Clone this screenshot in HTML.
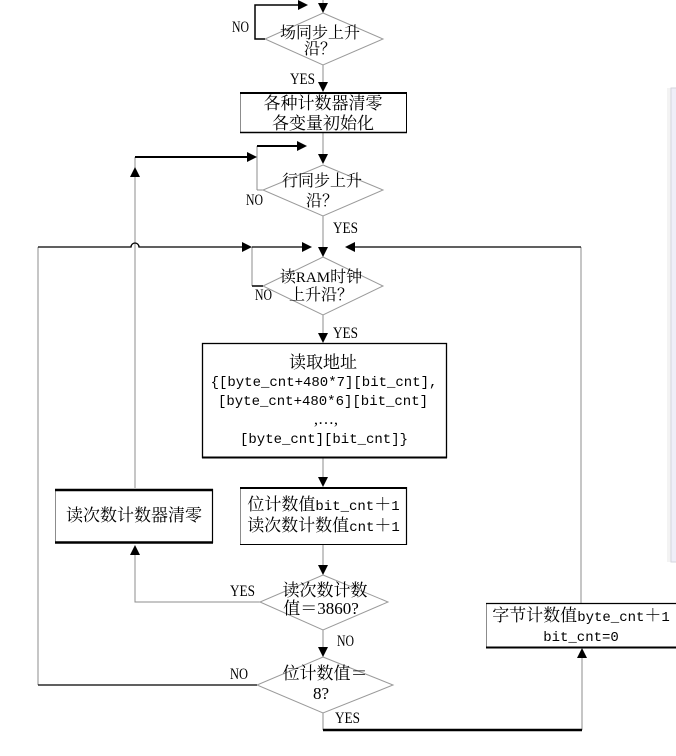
<!DOCTYPE html>
<html>
<head>
<meta charset="utf-8">
<style>
html,body{margin:0;padding:0;background:#fff;}
svg{display:block;}
.cj{font-family:"Liberation Serif","Noto Serif CJK SC","Noto Sans CJK SC",serif;font-size:17px;fill:#000;}
.cj16{font-family:"Liberation Serif","Noto Serif CJK SC","Noto Sans CJK SC",serif;font-size:16px;fill:#000;}
.mo{font-family:"Liberation Mono",monospace;font-size:14px;}
.sr{font-family:"Liberation Serif",serif;font-size:17px;}
.lb{font-family:"Liberation Serif",serif;font-size:16px;fill:#000;}
</style>
</head>
<body>
<svg width="676" height="756" viewBox="0 0 676 756" xmlns="http://www.w3.org/2000/svg">
<!-- right panel -->
<rect x="667" y="88" width="4" height="474" fill="#f3f3f3"/>
<rect x="671" y="88" width="8" height="474" fill="#efeef8" stroke="#d6d6de" stroke-width="1"/>

<g stroke="#8c8c8c" stroke-width="1" fill="none">
  <line x1="323" y1="0" x2="323" y2="6"/>
  <line x1="323" y1="65" x2="323" y2="84"/>
  <line x1="323" y1="133" x2="323" y2="156"/>
  <line x1="323" y1="216" x2="323" y2="248"/>
  <line x1="323" y1="315" x2="323" y2="334"/>
  <line x1="323" y1="458" x2="323" y2="478"/>
  <line x1="323" y1="545" x2="323" y2="566"/>
  <line x1="323" y1="630" x2="323" y2="648"/>
  <line x1="323" y1="713" x2="323" y2="730"/>
  <line x1="257" y1="146" x2="257" y2="190"/>
  <line x1="257" y1="190" x2="263" y2="190"/>
  <line x1="135" y1="157" x2="135" y2="488"/>
  <line x1="38" y1="247" x2="38" y2="685"/>
  <line x1="252" y1="247" x2="252" y2="286"/>
  <line x1="581" y1="247" x2="581" y2="603"/>
  <line x1="582" y1="658" x2="582" y2="730"/>
  <polyline points="260,602 135,602 135,555"/>
  <polygon points="323,13 383,39 323,65 265,39" stroke="#9a9a9a"/>
  <polygon points="323,165 383,190 323,216 263,190" stroke="#9a9a9a"/>
  <polygon points="323,257 383,286 323,315 263,286" stroke="#9a9a9a"/>
  <polygon points="323,575 388,602 323,630 260,602" stroke="#9a9a9a"/>
  <polygon points="323,657 393,685 323,713 257,685" stroke="#9a9a9a"/>
</g>

<g stroke="#000" fill="none">
  <polyline points="265,39 255,39 255,5 300,5" stroke-width="1.5"/>
  <line x1="135" y1="157" x2="249" y2="157" stroke-width="2"/>
  <line x1="257" y1="146" x2="299" y2="146" stroke-width="2"/>
  <path d="M38,247 H131 A4,4 0 0 1 139,247 H244" stroke-width="1.3"/>
  <line x1="252" y1="247" x2="304" y2="247" stroke-width="1.3"/>
  <line x1="354" y1="247" x2="581" y2="247" stroke-width="1.3"/>
  <line x1="252" y1="286" x2="263" y2="286" stroke-width="1.5"/>
  <line x1="38" y1="685" x2="257" y2="685" stroke-width="1.3"/>
  <line x1="323" y1="730" x2="582" y2="730" stroke-width="2.5"/>
</g>

<g fill="#000">
  <polygon points="318,3 328,3 323,13"/>
  <polygon points="298,0 308,5 298,10"/>
  <polygon points="318,82 328,82 323,92"/>
  <polygon points="318,154 328,154 323,164"/>
  <polygon points="297,141 307,146 297,151"/>
  <polygon points="247,152 257,157 247,162"/>
  <polygon points="130,177 140,177 135,167"/>
  <polygon points="318,247 328,247 323,257"/>
  <polygon points="242,242 252,247 242,252"/>
  <polygon points="302,242 312,247 302,252"/>
  <polygon points="355,242 345,247 355,252"/>
  <polygon points="318,333 328,333 323,343"/>
  <polygon points="318,477 328,477 323,487"/>
  <polygon points="130,555 140,555 135,545"/>
  <polygon points="318,565 328,565 323,575"/>
  <polygon points="318,647 328,647 323,657"/>
  <polygon points="577,658 587,658 582,648"/>
</g>

<!-- box1 -->
<rect x="240.5" y="92.5" width="166" height="40" fill="#fff" stroke="#8c8c8c" stroke-width="1"/>
<line x1="240" y1="93" x2="407" y2="93" stroke="#000" stroke-width="2"/>
<line x1="240" y1="132.5" x2="407" y2="132.5" stroke="#000" stroke-width="1.5"/>
<line x1="406.5" y1="92" x2="406.5" y2="133" stroke="#000" stroke-width="1"/>
<!-- box3 -->
<rect x="202.5" y="343.5" width="244" height="114" fill="#fff" stroke="#000" stroke-width="1.3"/>
<line x1="202" y1="457.5" x2="447" y2="457.5" stroke="#000" stroke-width="2"/>
<!-- box4 -->
<rect x="240.5" y="487.5" width="166" height="57" fill="#fff" stroke="#8c8c8c" stroke-width="1"/>
<line x1="240" y1="488" x2="407" y2="488" stroke="#000" stroke-width="2"/>
<line x1="406.5" y1="487" x2="406.5" y2="545" stroke="#000" stroke-width="1.2"/>
<line x1="240" y1="544.5" x2="407" y2="544.5" stroke="#000" stroke-width="1"/>
<!-- box5 -->
<rect x="55.5" y="489.5" width="157" height="53" fill="#fff" stroke="#8c8c8c" stroke-width="1"/>
<line x1="55" y1="490" x2="213" y2="490" stroke="#000" stroke-width="2.5"/>
<line x1="55" y1="542.5" x2="213" y2="542.5" stroke="#000" stroke-width="2.5"/>
<line x1="212.5" y1="489" x2="212.5" y2="543" stroke="#000" stroke-width="1.2"/>
<!-- box6 -->
<rect x="486.5" y="603.5" width="200" height="44" fill="#fff" stroke="#8c8c8c" stroke-width="1"/>
<line x1="486" y1="603.5" x2="676" y2="603.5" stroke="#000" stroke-width="1.2"/>
<line x1="486" y1="647.5" x2="676" y2="647.5" stroke="#000" stroke-width="2"/>

<!-- labels -->
<text class="lb" x="232" y="32" textLength="17" lengthAdjust="spacingAndGlyphs">NO</text>
<text class="lb" x="290" y="84" textLength="25" lengthAdjust="spacingAndGlyphs">YES</text>
<text class="lb" x="246" y="205" textLength="17" lengthAdjust="spacingAndGlyphs">NO</text>
<text class="lb" x="333" y="233" textLength="25" lengthAdjust="spacingAndGlyphs">YES</text>
<text class="lb" x="255" y="300" textLength="17" lengthAdjust="spacingAndGlyphs">NO</text>
<text class="lb" x="333" y="338" textLength="25" lengthAdjust="spacingAndGlyphs">YES</text>
<text class="lb" x="230" y="596" textLength="25" lengthAdjust="spacingAndGlyphs">YES</text>
<text class="lb" x="337" y="646" textLength="17" lengthAdjust="spacingAndGlyphs">NO</text>
<text class="lb" x="230" y="679" textLength="18" lengthAdjust="spacingAndGlyphs">NO</text>
<text class="lb" x="335" y="723" textLength="25" lengthAdjust="spacingAndGlyphs">YES</text>

<!-- diamond texts -->
<text class="cj16" x="320" y="38" text-anchor="middle">场同步上升</text>
<text class="cj16" x="320" y="54" text-anchor="middle">沿？</text>
<text class="cj16" x="322" y="186" text-anchor="middle">行同步上升</text>
<text class="cj16" x="322" y="206" text-anchor="middle">沿？</text>
<text class="cj16" x="321" y="282" text-anchor="middle">读<tspan style="font-family:'Liberation Serif',serif;font-size:15px">RAM</tspan>时钟</text>
<text class="cj16" x="321" y="300" text-anchor="middle">上升沿？</text>
<text class="cj" x="325" y="596" text-anchor="middle">读次数计数</text>
<text class="cj" x="321" y="614" text-anchor="middle">值＝<tspan class="sr">3860?</tspan></text>
<text class="cj" x="325" y="679" text-anchor="middle">位计数值＝</text>
<text class="sr" x="321" y="699" text-anchor="middle">8?</text>

<!-- box texts -->
<text class="cj" x="323" y="109" text-anchor="middle">各种计数器清零</text>
<text class="cj" x="323" y="129" text-anchor="middle">各变量初始化</text>

<text class="cj" x="323" y="368" text-anchor="middle">读取地址</text>
<text class="mo" x="324" y="386" text-anchor="middle">{[byte_cnt+480*7][bit_cnt],</text>
<text class="mo" x="323" y="405" text-anchor="middle">[byte_cnt+480*6][bit_cnt]</text>
<text class="cj16" x="326" y="424" text-anchor="middle">,…,</text>
<text class="mo" x="324" y="443" text-anchor="middle">[byte_cnt][bit_cnt]}</text>

<text class="cj" x="323.5" y="510" text-anchor="middle">位计数值<tspan class="mo">bit_cnt</tspan>＋<tspan class="mo">1</tspan></text>
<text class="cj" x="323.5" y="531" text-anchor="middle">读次数计数值<tspan class="mo">cnt</tspan>＋<tspan class="mo">1</tspan></text>

<text class="cj" x="134" y="521" text-anchor="middle">读次数计数器清零</text>

<text class="cj" x="581" y="621" text-anchor="middle">字节计数值<tspan class="mo">byte_cnt</tspan>＋<tspan class="mo">1</tspan></text>
<text class="mo" x="581" y="641" text-anchor="middle">bit_cnt=0</text>
</svg>
</body>
</html>
